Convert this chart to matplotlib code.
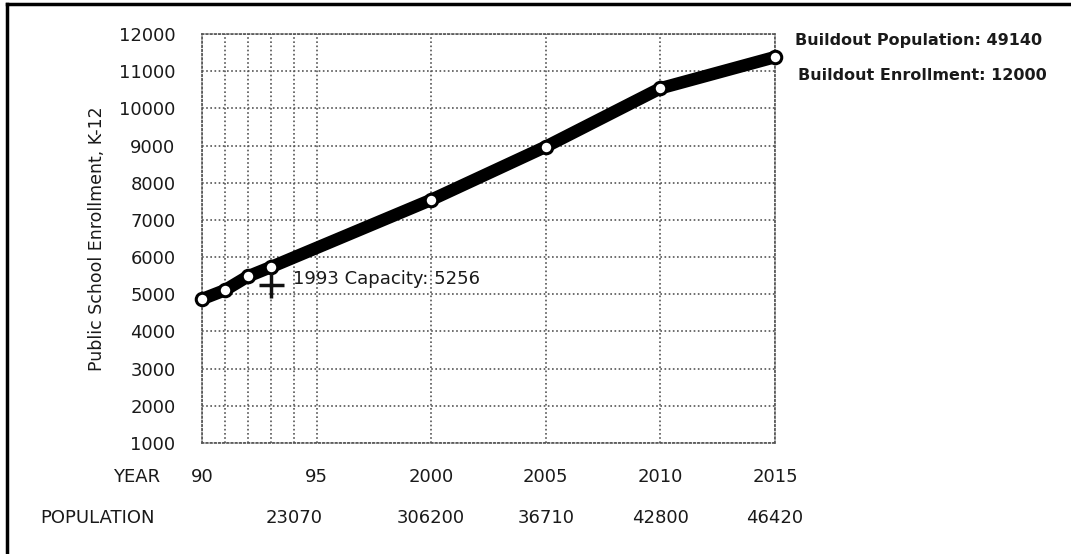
import matplotlib
matplotlib.use("Agg")
import matplotlib.pyplot as plt
from matplotlib.lines import Line2D

# enrollment
years = [1990, 1991, 1992, 1993, 2000, 2005, 2010, 2015]
enrollment = [4870, 5110, 5480, 5730, 7540, 8970, 10540, 11380]

year_ticks = [1990, 1995, 2000, 2005, 2010, 2015]
year_labels = ["90", "95", "2000", "2005", "2010", "2015"]
minor_years = [1991, 1992, 1993, 1994]

pop_years = [1994, 2000, 2005, 2010, 2015]
pop_labels = ["23070", "306200", "36710", "42800", "46420"]

capacity_year = 1993
capacity = 5256

plt.rcParams['font.family'] = ['DejaVu Sans']
txt_color = '#1a1a1a'
fig = plt.figure(figsize=(10.71, 5.54), dpi=100)
ax = fig.add_axes([0.1886, 0.2004, 0.535, 0.7382])

ax.set_xlim(1990, 2015)
ax.set_ylim(1000, 12000)

# dotted grid
ax.set_xticks(year_ticks)
ax.set_xticks(minor_years, minor=True)
ax.set_yticks(range(1000, 12001, 1000))
ax.grid(True, which='both', linestyle=(0, (1, 1.5)), color='#555555', linewidth=1.2)
ax.set_axisbelow(True)
for s in ax.spines.values():
    s.set_linestyle((0, (1, 1.5)))
    s.set_color('#555555')
    s.set_linewidth(1.2)

ax.tick_params(axis='both', which='both', length=0)
ax.tick_params(axis='y', pad=19, labelsize=13, labelcolor=txt_color)
ax.tick_params(axis='x', pad=18, labelsize=13, labelcolor=txt_color)
ax.set_xticklabels(year_labels)
ax.set_ylabel("Public School Enrollment, K-12", fontsize=12.5, color=txt_color, labelpad=9)

ax.plot(years, enrollment, color='black', linewidth=9, solid_capstyle='round', zorder=3,
        marker='o', markersize=9, markerfacecolor='white', markeredgecolor='black',
        markeredgewidth=2.2, clip_on=False)

# 1993 capacity marker
ax.plot([capacity_year], [capacity], marker='+', markersize=18, markeredgewidth=2.5,
        color='#111111', zorder=4)
ax.text(capacity_year + 0.95, capacity + 150, f"1993 Capacity: {capacity}", fontsize=13,
        color=txt_color, va='center', ha='left')

# year/population rows
fig.text(160 / 1071, 1 - 477 / 554, "YEAR", fontsize=13, ha='right', va='center', color=txt_color)
fig.text(40 / 1071, 1 - 518 / 554, "POPULATION", fontsize=13, ha='left', va='center', color=txt_color)
for yr, lab in zip(pop_years, pop_labels):
    ax.annotate(lab, xy=(yr, 0), xycoords=('data', 'figure fraction'),
                xytext=(0, 554 - 518), textcoords='offset pixels',
                ha='center', va='center', fontsize=13, color=txt_color)

fig.text(795 / 1071, 1 - 40 / 554, "Buildout Population: 49140", fontsize=11.5,
         fontweight='bold', ha='left', va='center', color=txt_color)
fig.text(798 / 1071, 1 - 75 / 554, "Buildout Enrollment: 12000", fontsize=11.5,
         fontweight='bold', ha='left', va='center', color=txt_color)

# frame on left and top edges
fig.add_artist(Line2D([7 / 1071, 7 / 1071], [0, 1 - 4 / 554], transform=fig.transFigure,
                      color='black', linewidth=2.5))
fig.add_artist(Line2D([7 / 1071, 1], [1 - 4 / 554, 1 - 4 / 554], transform=fig.transFigure,
                      color='black', linewidth=2.5))

fig.savefig("out.png", dpi=100)
